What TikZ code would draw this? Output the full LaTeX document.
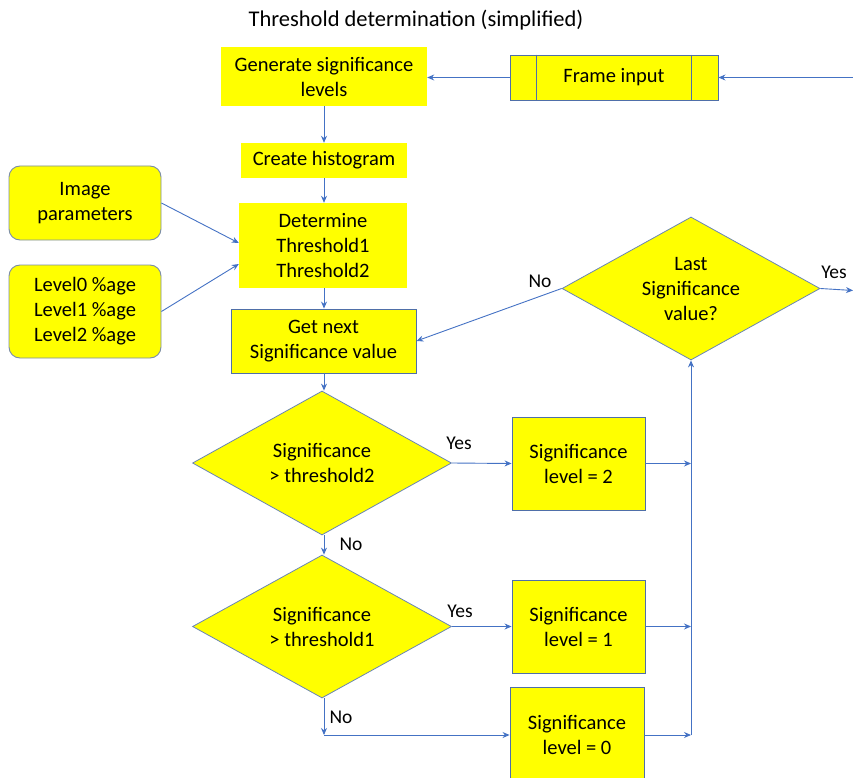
\documentclass[tikz,border=0pt]{standalone}
\usepackage{fontspec}
\setmainfont{Carlito}
\usetikzlibrary{shapes.geometric,arrows.meta}
\definecolor{ylw}{HTML}{FFFF00}
\definecolor{arr}{HTML}{4472C4}
\definecolor{bord}{HTML}{4F6FA8}
\definecolor{rbord}{HTML}{7A8CA8}
\begin{document}
\begin{tikzpicture}[x=1pt,y=-1pt,
  txt/.style={font=\fontsize{20.5}{25}\selectfont, align=center, text=black},
  plain/.style={txt, fill=ylw, inner sep=0pt},
  boxed/.style={plain, draw=bord, line width=0.9pt},
  rbox/.style={plain, draw=rbord, line width=0.9pt, rounded corners=11pt},
  dia/.style={plain, diamond, draw=bord!85, line width=0.8pt, aspect=1.8},
  lab/.style={font=\fontsize{19.5}{22}\selectfont, inner sep=0pt},
  conn/.style={draw=arr, line width=0.9pt, -{Stealth[length=7pt,width=6pt]}},
  wire/.style={draw=arr, line width=0.9pt},
]
\clip (0,0) rectangle (853,778);
\node[font=\fontsize{22.5}{26}\selectfont] (title) at (416,20) {Threshold determination (simplified)};
\node[plain, minimum width=206pt, minimum height=59pt] (gen) at (324,76.5) {Generate significance\\levels};
\node[boxed, minimum width=208pt, minimum height=45pt] (frame) at (614,77.5) {Frame input};
\draw[bord, line width=0.9pt] ([xshift=27pt]frame.north west) -- ([xshift=27pt]frame.south west);
\draw[bord, line width=0.9pt] ([xshift=-27pt]frame.north east) -- ([xshift=-27pt]frame.south east);
\node[plain, minimum width=166pt, minimum height=35pt] (hist) at (324,160.5) {Create histogram};
\node[plain, minimum width=168pt, minimum height=85pt] (det) at (323,245.5) {Determine\\Threshold1\\Threshold2};
\node[rbox, minimum width=152pt, minimum height=74pt] (img) at (85,203) {Image\\parameters};
\node[rbox, minimum width=152pt, minimum height=93pt] (lvl) at (85,311.5) {Level0 \%age\\Level1 \%age\\Level2 \%age};
\node[boxed, minimum width=185pt, minimum height=64pt] (get) at (323.5,341) {Get next\\Significance value};
\node[dia, minimum width=259pt, minimum height=144pt] (d1) at (322,463) {Significance\\> threshold2};
\node[dia, minimum width=259pt, minimum height=143pt] (d2) at (322,626.5) {Significance\\> threshold1};
\node[dia, minimum width=258pt, minimum height=143pt] (last) at (691,288.5) {Last\\Significance\\value?};
\node[boxed, minimum width=133pt, minimum height=93pt] (l2) at (578.5,463.5) {Significance\\level = 2};
\node[boxed, minimum width=133pt, minimum height=93pt] (l1) at (578.5,626.5) {Significance\\level = 1};
\node[boxed, minimum width=134pt, minimum height=96pt] (l0) at (577,735) {Significance\\level = 0};
\coordinate (fin) at (853,77.5);
\coordinate (yesend) at (853,290.5);
\coordinate (nocorner) at (324,735);
% labels
\node[lab] (yes1) at (459,443) {Yes};
\node[lab] (yes2) at (460,611) {Yes};
\node[lab] (no1) at (351,544) {No};
\node[lab] (no2) at (341,717) {No};
\node[lab] (nol) at (540,281) {No};
\node[lab] (yesl) at (834,272) {Yes};
% connectors
\draw[conn] (fin) -- (frame.east);
\draw[conn] (frame.west) -- (gen.east |- frame.west);
\draw[conn] (gen.south -| hist.north) -- (hist.north);
\draw[conn] (hist.south) -- (hist.south |- det.north);
\draw[conn] (img.east) -- ([yshift=2.5pt]det.west);
\draw[conn] (lvl.east) -- ([yshift=-18.5pt]det.west);
\draw[conn] (det.south -| hist.south) -- (hist.south |- get.north);
\draw[conn] (get.south -| hist.south) -- (hist.south |- d1.north);
\draw[conn] (d1.east) -- (l2.west);
\draw[conn] (d1.south -| hist.south) -- (hist.south |- d2.north);
\draw[conn] (d2.east) -- (l1.west);
\draw[conn] (d2.south -| nocorner) -- (nocorner);
\draw[conn] (nocorner) -- (l0.west);
\draw[conn] (l2.east) -- (l2.east -| last.south);
\draw[conn] (l1.east) -- (l1.east -| last.south);
\draw[conn] (l0.east) -- (l0.east -| last.south);
\draw[conn] (l0.east -| last.south) -- (last.south);
\draw[conn] (last.west) -- (get.east);
\draw[conn] (last.east) -- (yesend);
\end{tikzpicture}
\end{document}
